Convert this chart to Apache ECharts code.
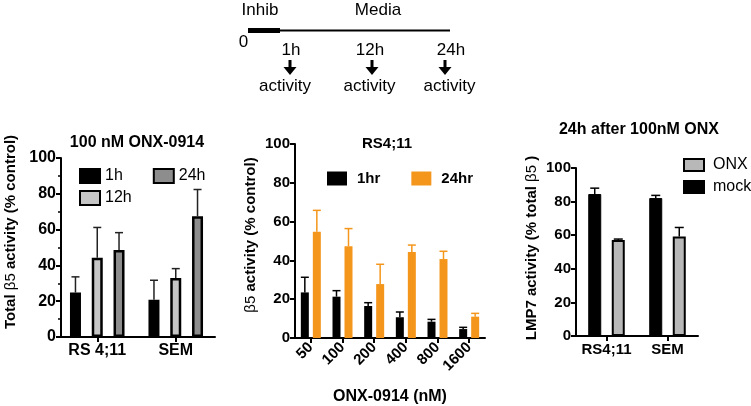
<!DOCTYPE html>
<html><head><meta charset="utf-8">
<script src="https://cdn.jsdelivr.net/npm/echarts@6/dist/echarts.min.js"></script>
<style>html,body{margin:0;padding:0;background:#fff}#c{width:751px;height:406px}</style>
</head><body><div id="c"></div>
<script>
// ---- Panel 1: 100 nM ONX-0914 (Total beta5 activity, % control)
const p1Categories = ['RS 4;11', 'SEM'];
const p1Names = ['1h', '12h', '24h'];
const p1Mean1h = [24.8, 20.8];
const p1Top1h = [33.6, 31.7];
const p1Mean12h = [44.3, 33.0];
const p1Top12h = [61.2, 38.2];
const p1Mean24h = [48.6, 67.4];
const p1Top24h = [58.3, 82.4];

// ---- Panel 2: RS4;11 (beta5 activity, % control) vs ONX-0914 dose
const p2Categories = ['50', '100', '200', '400', '800', '1600'];
const p2Names = ['1hr', '24hr'];
const p2Mean1hr = [23.5, 21.3, 16.5, 10.7, 8.4, 4.6];
const p2Top1hr = [31.3, 24.4, 18.2, 13.4, 9.6, 5.5];
const p2Mean24hr = [54.8, 47.3, 27.8, 44.3, 40.7, 11.0];
const p2Top24hr = [65.8, 56.4, 38.0, 47.9, 44.7, 12.7];

// ---- Panel 3: 24h after 100nM ONX (LMP7 activity, % total beta5)
const p3Categories = ['RS4;11', 'SEM'];
const p3Names = ['mock', 'ONX'];
const p3MeanMock = [84.5, 82.1];
const p3TopMock = [88.0, 83.7];
const p3MeanONX = [57.1, 59.2];
const p3TopONX = [57.7, 64.6];

// shared y scale
const yMin = 0, yMax = 100, yInterval = 20;

const FONT = "'Liberation Sans', Arial, sans-serif";
const chart = echarts.init(document.getElementById('c'), null, {renderer: 'canvas'});

function yAx(gi, fs, minor, offset) {
  return {
    type: 'value', gridIndex: gi, min: yMin, max: yMax, interval: yInterval, offset: offset || 0,
    axisLine: {show: true, lineStyle: {color: '#000', width: 2}},
    axisTick: {show: true, length: 5, lineStyle: {color: '#000', width: 2}},
    minorTick: {show: minor, splitNumber: 2, length: 3, lineStyle: {color: '#000', width: 1.5}},
    splitLine: {show: false},
    axisLabel: {color: '#000', fontWeight: 'bold', fontSize: fs, margin: 5, fontFamily: FONT}
  };
}
function xAx(gi, data, fs, rotate, margin) {
  return {
    type: 'category', gridIndex: gi, data: data,
    axisLine: {show: true, lineStyle: {color: '#000', width: 2}},
    axisTick: {show: true, alignWithLabel: true, length: 5, lineStyle: {color: '#000', width: 2}},
    axisLabel: {color: '#000', fontWeight: 'bold', fontSize: fs, margin: margin, rotate: rotate || 0, interval: 0, fontFamily: FONT}
  };
}
function bar(name, gi, data, color, barW, gap, border, bw) {
  return {
    name: name, type: 'bar', xAxisIndex: gi, yAxisIndex: gi, data: data,
    barWidth: barW, barGap: gap,
    itemStyle: {color: color, borderColor: border || color, borderWidth: bw || 0},
    emphasis: {disabled: true}
  };
}
function err(gi, means, tops, n, idx, barW, gapRatio, capW, color) {
  return {
    name: 'err' + gi + '_' + idx, type: 'custom', xAxisIndex: gi, yAxisIndex: gi, z: 5,
    data: means.map((m, i) => [i, m, tops[i]]),
    encode: {x: 0, y: [1, 2]},
    renderItem: function (params, api) {
      const gap = barW * gapRatio;
      const total = n * barW + (n - 1) * gap;
      const off = -total / 2 + idx * (barW + gap) + barW / 2;
      const p0 = api.coord([api.value(0), api.value(1)]);
      const p1 = api.coord([api.value(0), api.value(2)]);
      const x = p0[0] + off;
      return {type: 'group', children: [
        {type: 'line', shape: {x1: x, y1: p0[1], x2: x, y2: p1[1]}, style: {stroke: color, lineWidth: 1.5}},
        {type: 'line', shape: {x1: x - capW / 2, y1: p1[1], x2: x + capW / 2, y2: p1[1]}, style: {stroke: color, lineWidth: 1.5}}
      ]};
    }
  };
}

const ORANGE = '#f5961c';
const G12 = '#c6c6c6', G24 = '#8d8d8d', GONX = '#b8b8b8';

function tx(text, x, y, fs, extra) {
  return Object.assign({type: 'text', x: x, y: y, style: {text: text, fontSize: fs, fontFamily: FONT, fill: '#000', align: 'center', verticalAlign: 'middle'}}, extra || {});
}
function arrow(x) {
  return {type: 'polygon', shape: {points: [[x - 1.5, 60], [x + 1.5, 60], [x + 1.5, 67], [x + 6.5, 67], [x, 75], [x - 6.5, 67], [x - 1.5, 67]]}, style: {fill: '#000'}};
}
function richName(x, y, parts) {
  return {type: 'text', x: x, y: y, rotation: Math.PI / 2,
    style: {text: parts, align: 'center', verticalAlign: 'middle', fill: '#000',
      rich: {b: {fontWeight: 'bold', fontSize: 15, fontFamily: FONT, fill: '#000'},
             n: {fontWeight: 'normal', fontSize: 15, fontFamily: FONT, fill: '#000'}}}};
}

const option = {
  animation: false,
  backgroundColor: '#fff',
  textStyle: {fontFamily: FONT},
  title: [
    {text: '100 nM ONX-0914', left: 137, top: 135, textAlign: 'center', padding: 0, textStyle: {fontSize: 16, fontWeight: 'bold', color: '#000', fontFamily: FONT}},
    {text: 'RS4;11', left: 387, top: 136, textAlign: 'center', padding: 0, textStyle: {fontSize: 15, fontWeight: 'bold', color: '#000', fontFamily: FONT}},
    {text: '24h after 100nM ONX', left: 639, top: 122, textAlign: 'center', padding: 0, textStyle: {fontSize: 16, fontWeight: 'bold', color: '#000', fontFamily: FONT}}
  ],
  legend: [
    {data: ['1h', '24h'], left: 79, top: 168, padding: 0, itemWidth: 20, itemHeight: 14, itemGap: 30, icon: 'rect', selectedMode: false,
     textStyle: {fontSize: 16, color: '#000', fontFamily: FONT}},
    {data: ['12h'], left: 79, top: 190, padding: 0, itemWidth: 20, itemHeight: 14, icon: 'rect', selectedMode: false,
     textStyle: {fontSize: 16, color: '#000', fontFamily: FONT}},
    {data: ['1hr', '24hr'], left: 327, top: 171, padding: 0, itemWidth: 20, itemHeight: 14, itemGap: 31, icon: 'rect', selectedMode: false,
     textStyle: {fontSize: 15, fontWeight: 'bold', color: '#000', fontFamily: FONT, padding: [0, 0, 0, 5]}},
    {data: ['ONX', 'mock'], orient: 'vertical', left: 683, top: 157, padding: 0, itemWidth: 20, itemHeight: 12, itemGap: 6, icon: 'rect', selectedMode: false,
     textStyle: {fontSize: 16, color: '#000', fontFamily: FONT, padding: [0, 0, 0, 4]}}
  ],
  grid: [
    {left: 58, top: 158, width: 157, height: 179, containLabel: false, outerBoundsMode: 'none'},
    {left: 295, top: 144, width: 190, height: 194, containLabel: false, outerBoundsMode: 'none'},
    {left: 576, top: 168, width: 122, height: 168, containLabel: false, outerBoundsMode: 'none'}
  ],
  xAxis: [
    xAx(0, p1Categories, 16, 0, 6),
    xAx(1, p2Categories, 15, 45, 7),
    xAx(2, p3Categories, 15, 0, 6)
  ],
  yAxis: [
    yAx(0, 16, true, -3),
    yAx(1, 15, false, 0),
    yAx(2, 15, false, 0)
  ],
  series: [
    bar(p1Names[0], 0, p1Mean1h, '#000', 11, '98%', '#000', 2.5),
    bar(p1Names[1], 0, p1Mean12h, G12, 11, '98%', '#000', 2.5),
    bar(p1Names[2], 0, p1Mean24h, G24, 11, '98%', '#000', 2.5),
    err(0, p1Mean1h, p1Top1h, 3, 0, 11, 0.98, 8, '#222'),
    err(0, p1Mean12h, p1Top12h, 3, 1, 11, 0.98, 8, '#222'),
    err(0, p1Mean24h, p1Top24h, 3, 2, 11, 0.98, 8, '#222'),

    bar(p2Names[0], 1, p2Mean1hr, '#000', 8, '50%'),
    bar(p2Names[1], 1, p2Mean24hr, ORANGE, 8, '50%'),
    err(1, p2Mean1hr, p2Top1hr, 2, 0, 8, 0.5, 8, '#000'),
    err(1, p2Mean24hr, p2Top24hr, 2, 1, 8, 0.5, 8, ORANGE),

    bar(p3Names[0], 2, p3MeanMock, '#000', 13, '81%', '#000', 1),
    bar(p3Names[1], 2, p3MeanONX, GONX, 13, '81%', '#000', 2),
    err(2, p3MeanMock, p3TopMock, 2, 0, 13, 0.81, 9, '#000'),
    err(2, p3MeanONX, p3TopONX, 2, 1, 13, 0.81, 9, '#000')
  ],
  graphic: [
    // timeline schematic
    {type: 'rect', shape: {x: 248, y: 28, width: 32, height: 5}, style: {fill: '#000'}},
    {type: 'line', shape: {x1: 280, y1: 30.5, x2: 450, y2: 30.5}, style: {stroke: '#000', lineWidth: 2}},
    tx('Inhib', 260, 10, 17),
    tx('Media', 378, 10, 17),
    tx('0', 243.5, 42, 17),
    tx('1h', 291, 50, 17),
    tx('12h', 370, 50, 17),
    tx('24h', 451, 50, 17),
    arrow(290), arrow(372), arrow(445),
    tx('activity', 285, 86, 17),
    tx('activity', 369.5, 86, 17),
    tx('activity', 449.5, 86, 17),
    // y-axis names
    richName(11, 232, '{b|Total }{n|β5}{b| activity (% control)}'),
    richName(251, 235, '{n|β5}{b| activity (% control)}'),
    richName(532, 248, '{b|LMP7 activity (% total }{n|β5}{b| )}'),
    // x-axis name panel 2
    tx('ONX-0914 (nM)', 390, 397, 16, {style: {text: 'ONX-0914 (nM)', fontSize: 16, fontWeight: 'bold', fontFamily: FONT, fill: '#000', align: 'center', verticalAlign: 'middle'}})
  ]
};
chart.setOption(option);
</script></body></html>
